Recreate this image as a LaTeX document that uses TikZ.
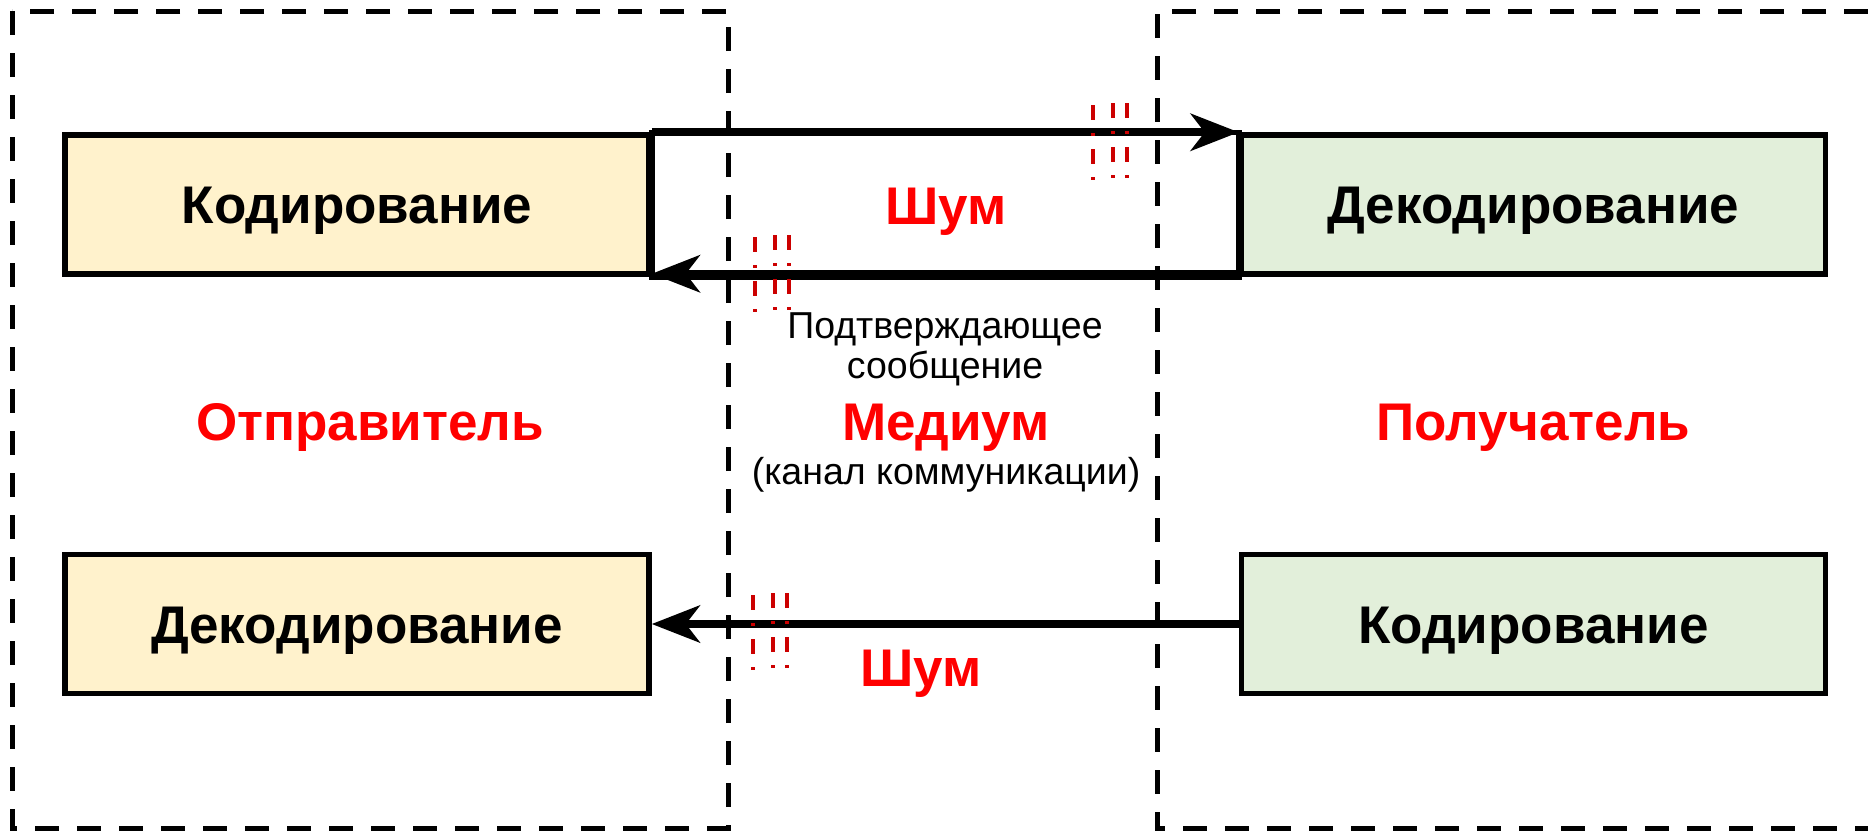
\documentclass[tikz,border=0pt]{standalone}
\usepackage{fontspec}
\setmainfont{Liberation Sans}
\usetikzlibrary{arrows.meta}

\definecolor{encfill}{HTML}{FFF2CC}
\definecolor{decfill}{HTML}{E2EFDA}
\definecolor{noisered}{HTML}{CC0000}
\definecolor{labelred}{HTML}{FF0000}

\begin{document}
\begin{tikzpicture}[x=1pt,y=-1pt,
  zone/.style={draw=black, line width=5pt, dash pattern=on 24pt off 18pt},
  block/.style={draw=black, line width=5.5pt, minimum width=584pt, minimum height=139pt,
    inner sep=0pt, text height=38pt, text depth=0pt,
    font=\fontsize{53}{60}\selectfont\bfseries},
  bigred/.style={anchor=base, inner sep=0pt, text=labelred,
    font=\fontsize{53}{60}\selectfont\bfseries},
  note/.style={anchor=base, inner sep=0pt, font=\fontsize{37.5}{44}\selectfont},
  flow/.style={draw=black, line width=8pt,
    -{Stealth[length=48pt, width=37pt, inset=14pt]}},
  noisestroke/.style={draw=noisered, line width=4.5pt,
    dash pattern=on 15pt off 13pt on 3pt off 13pt},
  noisemark/.pic={
    \draw[noisestroke] (0,2) -- (0,78);
    \draw[noisestroke] (20,0) -- (20,76);
    \draw[noisestroke] (34,0) -- (34,76);
  }
]
\useasboundingbox (0,0) rectangle (1868,833);

% sender zone and receiver zone (the latter runs off the right side)
\draw[zone] (12,11) rectangle (728,828);
\draw[zone] (1868,11) -- (1157,11) -- (1157,828) -- (1868,828);

% blocks
\node[block, fill=encfill] (sendEnc) at (357,204.5) {Кодирование};
\node[block, fill=encfill] (sendDec) at (357,624) {Декодирование};
\node[block, fill=decfill] (recvDec) at (1533.5,204.5) {Декодирование};
\node[block, fill=decfill] (recvEnc) at (1533.5,624) {Кодирование};

% channel frame between the upper blocks
\draw[draw=black, line width=5.5pt] (sendEnc.north east) rectangle (recvDec.south west);
\node[bigred] (noiseA) at (946,224) {Шум};

% message flows
\draw[flow] (sendEnc.north east) -- (recvDec.north west);
\draw[flow] ([yshift=3pt]recvDec.south west) -- ([yshift=3pt]sendEnc.south east);
\draw[flow] (recvEnc.west) -- (sendDec.east);

% noise marks on the flows
\pic at (1093,103) {noisemark};
\pic at (755,235) {noisemark};
\pic at (753,593) {noisemark};

% labels
\node[note] (ackA) at (945,338) {Подтверждающее};
\node[note] (ackB) at (945,378) {сообщение};
\node[bigred] (sender) at (370,440) {Отправитель};
\node[bigred] (medium) at (946,440) {Медиум};
\node[bigred] (receiver) at (1533.5,440) {Получатель};
\node[note] (channel) at (946,484) {(канал коммуникации)};
\node[bigred] (noiseB) at (921,686) {Шум};
\end{tikzpicture}
\end{document}
